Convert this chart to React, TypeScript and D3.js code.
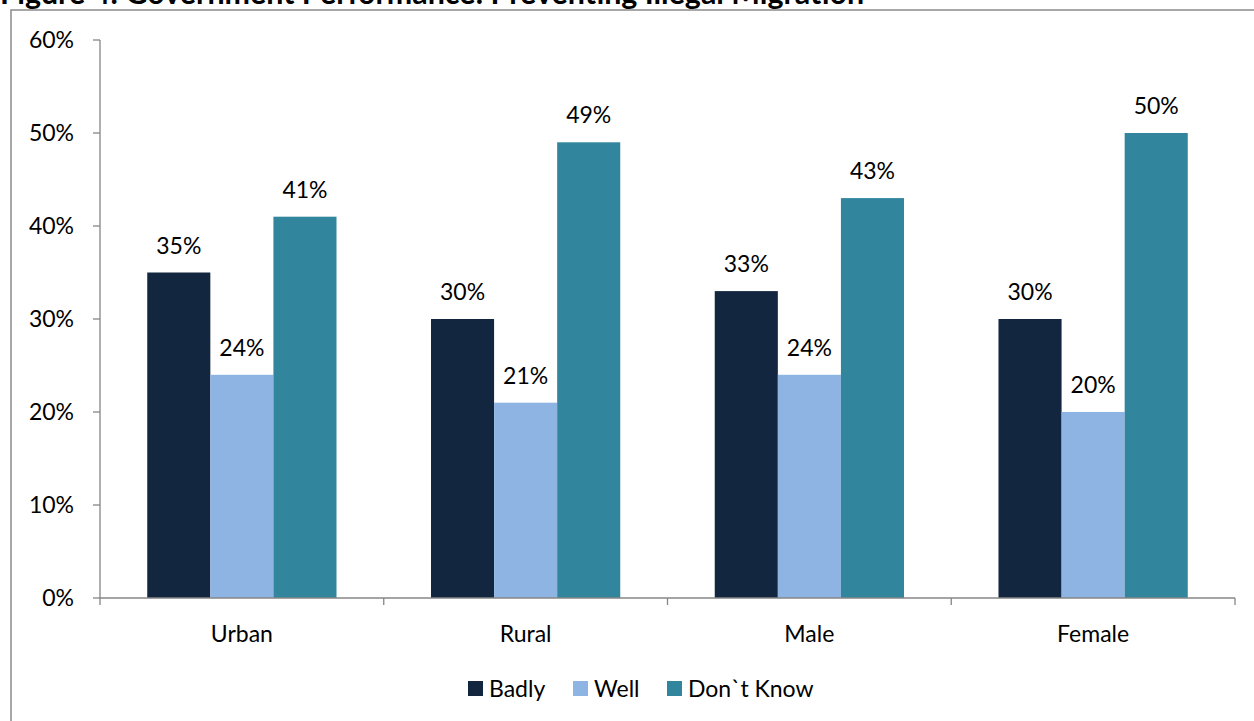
import React, { useEffect, useRef } from "react";
import * as d3 from "d3";

const categories = ["Urban", "Rural", "Male", "Female"];
const seriesNames = ["Badly", "Well", "Don`t Know"];
const badly = [35, 30, 33, 30];
const well = [24, 21, 24, 20];
const dontKnow = [41, 49, 43, 50];
const yTicks = [0, 10, 20, 30, 40, 50, 60];
const colors = ["#12263F", "#8EB4E3", "#31859C"];

const W = 1254;
const H = 721;
const FONT = "Lato, 'Open Sans', sans-serif";
const FS = 23;

export default function App() {
  const ref = useRef<SVGSVGElement>(null);

  useEffect(() => {
    const svg = d3.select(ref.current);
    svg.selectAll("*").remove();

    const left = 100, right = 1235, top = 40, bottom = 598;
    const x0 = d3.scaleBand<string>().domain(categories).range([left, right]).paddingInner(0.333).paddingOuter(0.1665);
    const x1 = d3.scaleBand<string>().domain(seriesNames).range([0, x0.bandwidth()]);
    const y = d3.scaleLinear().domain([0, 60]).range([bottom, top]);

    // outer frame
    svg.append("rect").attr("x", 11).attr("y", 10).attr("width", W).attr("height", H)
      .attr("fill", "none").attr("stroke", "#8a8a8a").attr("stroke-width", 1.5);

    // title (runs off the top edge of the figure)
    svg.append("text").attr("x", 0).attr("y", 4).attr("font-family", FONT).attr("font-weight", 700)
      .attr("font-size", 30.4).attr("fill", "#000")
      .text("Figure 4: Government Performance: Preventing Illegal Migration");

    const values = [badly, well, dontKnow];
    const g = svg.append("g");
    categories.forEach((c, ci) => {
      seriesNames.forEach((s, si) => {
        const v = values[si][ci];
        const bx = (x0(c) as number) + (x1(s) as number);
        g.append("rect").attr("x", bx).attr("y", y(v)).attr("width", x1.bandwidth())
          .attr("height", y(0) - y(v)).attr("fill", colors[si]);
        g.append("text").attr("x", bx + x1.bandwidth() / 2).attr("y", y(v) - 19)
          .attr("text-anchor", "middle").attr("font-family", FONT).attr("font-size", FS)
          .attr("fill", "#000").text(`${v}%`);
      });
    });

    const axisColor = "#868686";
    // y axis
    svg.append("line").attr("x1", left).attr("x2", left).attr("y1", top).attr("y2", bottom)
      .attr("stroke", axisColor).attr("stroke-width", 1.3);
    yTicks.forEach((t) => {
      svg.append("line").attr("x1", left - 7).attr("x2", left).attr("y1", y(t)).attr("y2", y(t))
        .attr("stroke", axisColor).attr("stroke-width", 1.3);
      svg.append("text").attr("x", 74).attr("y", y(t)).attr("dy", "0.35em").attr("text-anchor", "end")
        .attr("font-family", FONT).attr("font-size", FS).attr("fill", "#000").text(`${t}%`);
    });

    // x axis
    svg.append("line").attr("x1", left).attr("x2", right).attr("y1", bottom).attr("y2", bottom)
      .attr("stroke", axisColor).attr("stroke-width", 1.3);
    const step = (right - left) / categories.length;
    d3.range(categories.length + 1).forEach((i) => {
      const tx = left + i * step;
      svg.append("line").attr("x1", tx).attr("x2", tx).attr("y1", bottom).attr("y2", bottom + 7)
        .attr("stroke", axisColor).attr("stroke-width", 1.3);
    });
    categories.forEach((c) => {
      svg.append("text").attr("x", (x0(c) as number) + x0.bandwidth() / 2).attr("y", 634).attr("dy", "0.35em")
        .attr("text-anchor", "middle").attr("font-family", FONT).attr("font-size", FS).attr("fill", "#000").text(c);
    });

    // legend
    const legendX = [468, 573, 667];
    seriesNames.forEach((s, i) => {
      svg.append("rect").attr("x", legendX[i]).attr("y", 681).attr("width", 15).attr("height", 15).attr("fill", colors[i]);
      svg.append("text").attr("x", legendX[i] + 21).attr("y", 689).attr("dy", "0.35em")
        .attr("font-family", FONT).attr("font-size", FS).attr("fill", "#000").text(s);
    });
  }, []);

  return (
    <svg ref={ref} width={W} height={H} style={{ position: "fixed", left: 0, top: 0, background: "#fff" }} />
  );
}
